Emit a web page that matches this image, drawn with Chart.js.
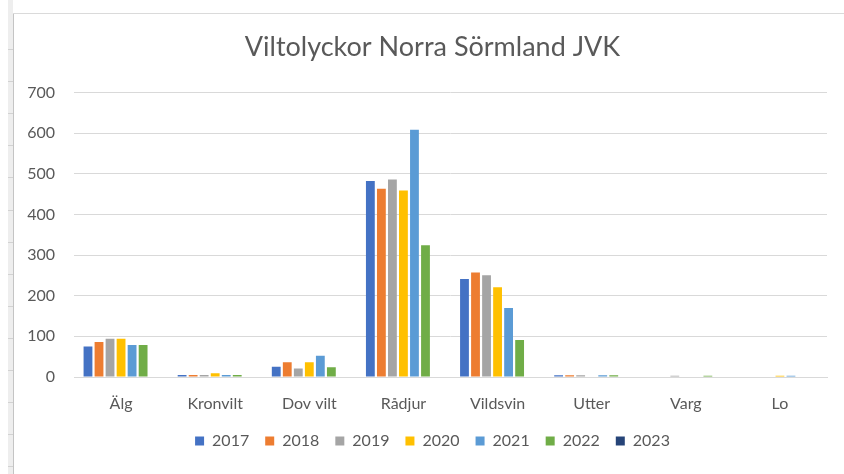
<!DOCTYPE html>
<html>
<head>
<meta charset="utf-8">
<script src="https://cdn.jsdelivr.net/npm/chart.js@4"></script>
<style>
  html, body { margin: 0; padding: 0; background: #ffffff; }
  #wrap { position: relative; width: 844px; height: 474px; overflow: hidden; background: #ffffff; }
  #strip { position: absolute; left: 8px; top: 0; width: 5px; height: 474px; background: #eeeeee; }
  #vline { position: absolute; left: 13px; top: 13px; width: 1px; height: 461px; background: #c4c4c4; }
  #hline { position: absolute; left: 13px; top: 13px; width: 831px; height: 1px; background: #dadada; }
  .rowtick { position: absolute; left: 8px; width: 5px; height: 1px; background: #d2d2d2; }
  #holder { position: absolute; left: 14px; top: 15px; width: 830px; height: 459px; }
</style>
</head>
<body>
<div id="wrap">
  <div id="strip"></div>
  <div id="vline"></div>
  <div id="hline"></div>
  <div id="holder"><canvas id="c" width="830" height="459"></canvas></div>
</div>
<script>
const categories = ["Älg", "Kronvilt", "Dov vilt", "Rådjur", "Vildsvin", "Utter", "Varg", "Lo"];
const years = ["2017", "2018", "2019", "2020", "2021", "2022", "2023"];
const v2017 = [75, 5, 25, 482, 241, 4, 0, 0];
const v2018 = [86, 5, 36, 463, 257, 4, 0, 0];
const v2019 = [94, 5, 21, 486, 250, 4, 3, 0];
const v2020 = [94, 9, 36, 459, 221, 0, 0, 3];
const v2021 = [79, 5, 52, 608, 170, 4, 0, 3];
const v2022 = [79, 5, 24, 324, 91, 4, 3, 0];
const v2023 = [0, 0, 0, 0, 0, 0, 0, 0];
const yTicks = [0, 100, 200, 300, 400, 500, 600, 700];
const colors = ["#4472C4", "#ED7D31", "#A5A5A5", "#FFC000", "#5B9BD5", "#70AD47", "#264478"];
const titleText = "Viltolyckor Norra Sörmland JVK";

// decorative worksheet row ticks on the left strip
const wrap = document.getElementById('wrap');
for (let i = 0; i < 14; i++) {
  const d = document.createElement('div');
  d.className = 'rowtick';
  d.style.top = Math.round(49 + 32.1 * i) + 'px';
  wrap.appendChild(d);
}

const series = [v2017, v2018, v2019, v2020, v2021, v2022, v2023];
const datasets = series.map((vals, i) => ({
  label: years[i],
  data: vals,
  backgroundColor: colors[i],
  borderWidth: 0,
  categoryPercentage: 0.82,
  barPercentage: 0.8
}));

const FONT = "Lato, 'Open Sans', sans-serif";
new Chart(document.getElementById('c'), {
  type: 'bar',
  data: { labels: categories, datasets: datasets },
  options: {
    responsive: false,
    animation: false,
    devicePixelRatio: 1,
    layout: { padding: { left: 13, right: 6, top: 16, bottom: 15 } },
    plugins: {
      title: {
        display: true,
        text: titleText,
        color: '#595959',
        font: { family: FONT, size: 27, weight: 'normal' },
        padding: { top: 0, bottom: 29 }
      },
      legend: {
        display: true,
        position: 'bottom',
        labels: {
          boxWidth: 9,
          boxHeight: 9,
          padding: 16,
          color: '#595959',
          font: { family: FONT, size: 16 }
        }
      },
      tooltip: { enabled: false }
    },
    scales: {
      x: {
        grid: { display: false, drawTicks: false },
        border: { display: true, color: '#d9d9d9', width: 1 },
        ticks: { color: '#595959', font: { family: FONT, size: 16, lineHeight: 1.625 }, padding: 14, maxRotation: 0 },
        afterFit: (scale) => { scale.height = 40; }
      },
      y: {
        min: 0,
        max: 700,
        afterBuildTicks: (axis) => { axis.ticks = yTicks.map(v => ({ value: v })); },
        grid: { color: '#d9d9d9', lineWidth: 1, drawTicks: false },
        border: { display: false },
        ticks: { color: '#595959', font: { family: FONT, size: 16 }, padding: 19 },
        afterFit: (scale) => { scale.width = 47; }
      },
      yRightSpace: {
        position: 'right',
        min: 0,
        max: 700,
        grid: { display: false, drawTicks: false },
        border: { display: false },
        ticks: { display: false },
        afterFit: (scale) => { scale.width = 11; }
      }
    }
  }
});
</script>
</body>
</html>
